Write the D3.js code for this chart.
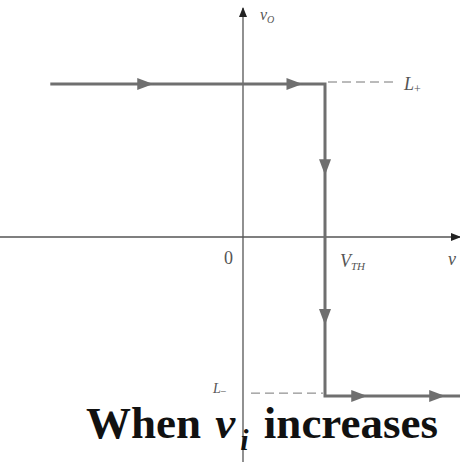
<!DOCTYPE html>
<html>
<head>
<meta charset="utf-8">
<script src="https://cdn.jsdelivr.net/npm/d3@7"></script>
<style>
  body { margin: 0; background: #fff; }
  svg { display: block; }
</style>
</head>
<body>
<div id="wrapper"></div>
<script>
// transfer characteristic values (vi in units of V_TH, vO in units of L+)
const vTH = 1
const lPlus = 1
const lMinus = -1.04
const viStart = -2.35
const viEnd = 2.65
// where the direction arrows sit along the trace
const upperArrows = [-1.18, 0.64]
const verticalArrows = [0.45, -0.53]
const lowerArrows = [1.43, 2.38]
// axis labels
const tickLabels = ["0", "V", "TH"]

function drawChart() {
  const width = 460
  const height = 462

  const wrapper = d3.select("#wrapper")
    .append("svg")
      .attr("width", width)
      .attr("height", height)

  // origin sits at (243, 237)
  const xScale = d3.scaleLinear()
    .domain([0, vTH])
    .range([243, 325])

  const yScale = d3.scaleLinear()
    .domain([0, lPlus])
    .range([237, 84])

  const defs = wrapper.append("defs")
  defs.append("marker")
      .attr("id", "axisHead")
      .attr("viewBox", "0 0 10 10")
      .attr("refX", 9)
      .attr("refY", 5)
      .attr("markerWidth", 10)
      .attr("markerHeight", 10)
      .attr("markerUnits", "userSpaceOnUse")
      .attr("orient", "auto")
    .append("path")
      .attr("d", "M0,1 L10,5 L0,9 Z")
      .attr("fill", "#222")

  const traceColor = "#6f6f6f"
  const axisColor = "#555"

  // axes
  wrapper.append("line")
    .attr("x1", 0)
    .attr("x2", width)
    .attr("y1", yScale(0))
    .attr("y2", yScale(0))
    .attr("stroke", axisColor)
    .attr("stroke-width", 1.3)
    .attr("marker-end", "url(#axisHead)")

  wrapper.append("line")
    .attr("x1", xScale(0))
    .attr("x2", xScale(0))
    .attr("y1", height)
    .attr("y2", 8)
    .attr("stroke", axisColor)
    .attr("stroke-width", 1.3)
    .attr("marker-end", "url(#axisHead)")

  // dashed level guides
  wrapper.append("line")
    .attr("x1", xScale(vTH) + 3)
    .attr("x2", 396)
    .attr("y1", yScale(lPlus) - 2)
    .attr("y2", yScale(lPlus) - 2)
    .attr("stroke", "#777")
    .attr("stroke-width", 1)
    .attr("stroke-dasharray", "9 5")

  wrapper.append("line")
    .attr("x1", xScale(0) + 8)
    .attr("x2", xScale(vTH) - 2)
    .attr("y1", yScale(lMinus) - 3)
    .attr("y2", yScale(lMinus) - 3)
    .attr("stroke", "#777")
    .attr("stroke-width", 1)
    .attr("stroke-dasharray", "9 5")

  // the trace
  const trace = [
    [viStart, lPlus],
    [vTH, lPlus],
    [vTH, lMinus],
    [viEnd, lMinus]
  ]
  const lineGen = d3.line()
    .x(d => xScale(d[0]))
    .y(d => yScale(d[1]))

  wrapper.append("path")
    .attr("d", lineGen(trace))
    .attr("fill", "none")
    .attr("stroke", traceColor)
    .attr("stroke-width", 3)

  // direction arrows
  const arrowHead = (x, y, angle) => {
    wrapper.append("path")
      .attr("d", "M-9,-6 L7,0 L-9,6 Z")
      .attr("transform", `translate(${x},${y}) rotate(${angle})`)
      .attr("fill", traceColor)
  }
  upperArrows.forEach(v => arrowHead(xScale(v), yScale(lPlus), 0))
  verticalArrows.forEach(v => arrowHead(xScale(vTH), yScale(v), 90))
  lowerArrows.forEach(v => arrowHead(xScale(v), yScale(lMinus), 0))

  // labels
  const labelFont = "'Liberation Serif', 'DejaVu Serif', serif"
  const label = (x, y, size, italic) => wrapper.append("text")
    .attr("x", x)
    .attr("y", y)
    .attr("fill", "#555")
    .style("font-family", labelFont)
    .style("font-size", size + "px")
    .style("font-style", italic ? "italic" : "normal")

  const vo = label(xScale(0) + 17, 20, 16, true)
  vo.append("tspan").text("v")
  vo.append("tspan").attr("dy", 3).style("font-size", "10px").text("O")

  const lp = label(404, yScale(lPlus) + 6, 18, true)
  lp.append("tspan").text("L")
  lp.append("tspan").attr("dy", 3).style("font-size", "12px").style("font-style", "normal").text("+")

  const lm = label(xScale(0) - 30, yScale(lMinus) - 3, 14, true)
  lm.append("tspan").text("L")
  lm.append("tspan").attr("dy", 1).style("font-size", "10px").style("font-style", "normal").text("–")

  label(xScale(0) - 19, yScale(0) + 27, 18, false).text(tickLabels[0])

  const vth = label(xScale(vTH) + 15, yScale(0) + 30, 18, true)
  vth.append("tspan").text(tickLabels[1])
  vth.append("tspan").attr("dy", 3).style("font-size", "11px").text(tickLabels[2])

  label(448, yScale(0) + 28, 18, true).text("v")

  // caption
  const title = wrapper.append("text")
    .attr("x", 86)
    .attr("y", 438)
    .attr("fill", "#111")
    .style("font-family", labelFont)
    .style("font-weight", "bold")
    .style("font-size", "45px")
  title.append("tspan").text("When ")
  title.append("tspan").attr("dx", 3).style("font-style", "italic").text("v")
  title.append("tspan").attr("dx", 5).attr("dy", 12).style("font-style", "italic").style("font-size", "30px").text("i")
  title.append("tspan").attr("dx", 4).attr("dy", -12).text(" increases")
}

drawChart()
</script>
</body>
</html>
